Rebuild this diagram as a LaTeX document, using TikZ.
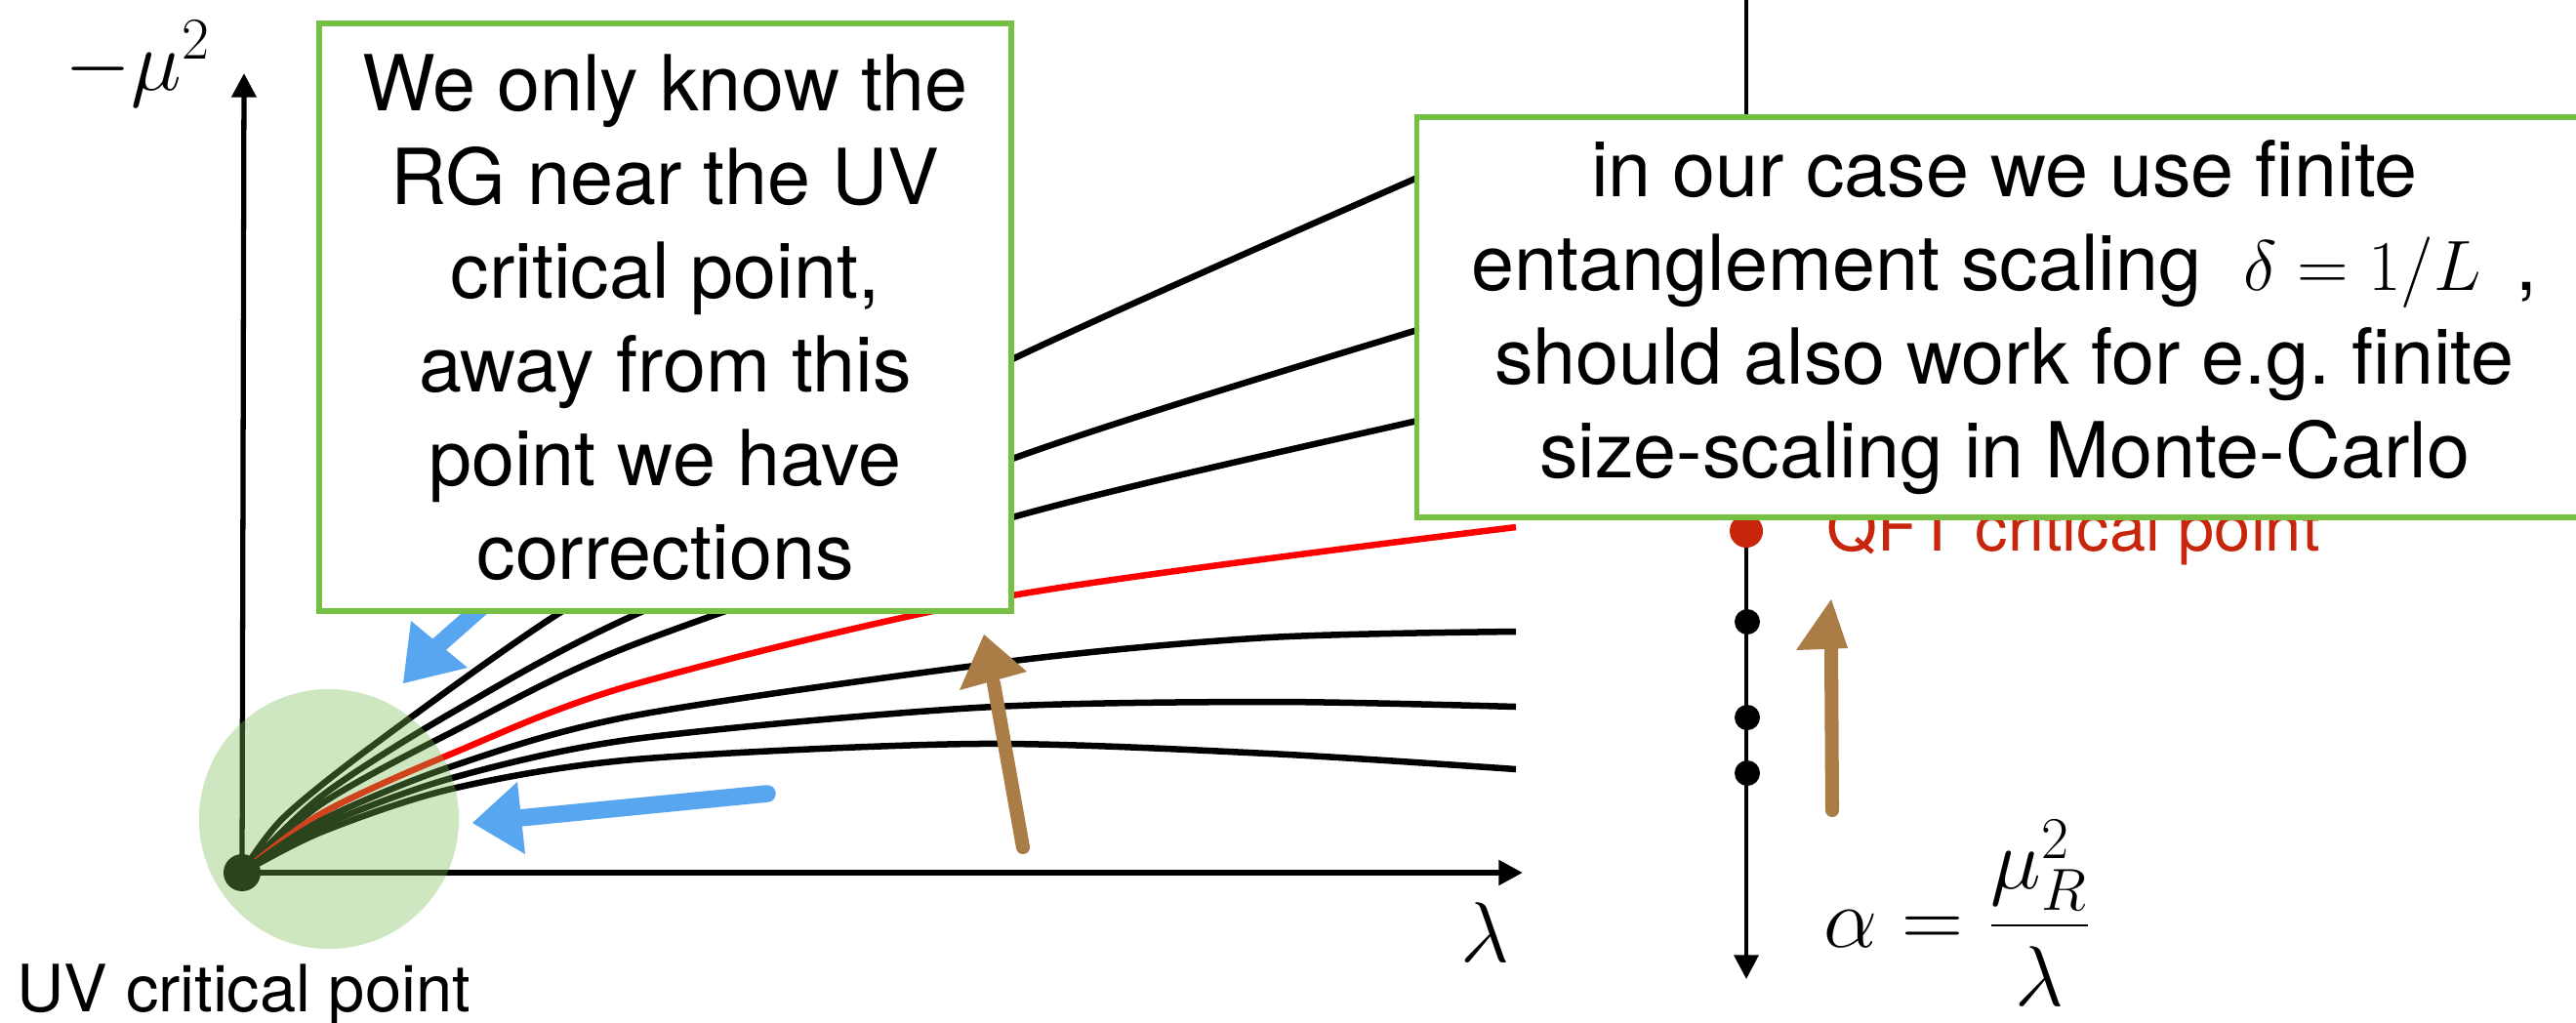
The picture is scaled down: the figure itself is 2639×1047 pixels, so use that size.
\documentclass[tikz,border=0pt]{standalone}
\usepackage{fontspec}
\setmainfont{TeX Gyre Heros}
\usetikzlibrary{arrows.meta}
\definecolor{boxgreen}{RGB}{118,192,67}
\definecolor{circgreen}{RGB}{122,191,83}
\definecolor{qftred}{RGB}{200,38,12}
\definecolor{flowblue}{RGB}{88,166,240}
\definecolor{flowbrown}{RGB}{170,124,70}
\definecolor{rgred}{RGB}{255,0,0}
\begin{document}
\begin{tikzpicture}[x=0.01cm,y=-0.01cm,
  axis/.style={line width=1.5pt, -{Triangle[length=7pt,width=7pt]}},
  flow/.style={line width=1.85pt},
  gbox/.style={draw=boxgreen, line width=1.6pt, fill=white, align=center, inner sep=0pt, font=\fontsize{22.5}{27.3}\selectfont},
  lbl/.style={inner sep=0pt, anchor=base west, font=\fontsize{19}{23}\selectfont},
  mlbl/.style={inner sep=0pt, anchor=base west},
  bluearrow/.style={draw=flowblue, line width=5pt, line cap=round},
  brownarrow/.style={draw=flowbrown, line width=4pt, line cap=round},
]
\clip (0,0) rectangle (2639,1047);
\fill[white] (0,0) rectangle (2639,1047);

% coordinates
\coordinate (O) at (248,894);
\coordinate (ytip) at (250,75);
\coordinate (xtip) at (1560,894);
\coordinate (rtop) at (1789,0);
\coordinate (rtip) at (1789,1003);

% flow lines
\draw[flow] plot[smooth] coordinates {(248,894) (290,838) (383,763) (573,628) (800,497) (1037,368) (1452,182) (1553,140)};
\draw[flow] plot[smooth] coordinates {(248,894) (330,815) (463,730) (650,630) (1037,470) (1452,338) (1553,310)};
\draw[flow] plot[smooth] coordinates {(248,894) (330,823) (463,750) (650,660) (1037,530) (1452,431) (1553,410)};
\draw[flow, rgred] plot[smooth] coordinates {(248,894) (330,833) (463,772) (650,701) (1037,610) (1553,540)};
\draw[flow] plot[smooth] coordinates {(248,894) (330,840) (463,785) (650,733) (1038,677) (1300,653) (1553,647)};
\draw[flow] plot[smooth] coordinates {(248,894) (330,846) (463,797) (650,757) (1000,725) (1300,719) (1553,724)};
\draw[flow] plot[smooth] coordinates {(248,894) (330,852) (463,808) (650,778) (1000,762) (1300,772) (1553,788)};

% axes
\draw[axis] (O) -- (ytip);
\draw[axis, line width=1.7pt] (O) -- (xtip);
\fill (O) circle[radius=0.19cm];

% green disc
\fill[circgreen, opacity=0.36] (337,839) circle[radius=1.33cm];

% axis labels
\node[mlbl, font=\fontsize{26}{31}\selectfont] (ylab) at (66,92) {$-\mu^2$};
\node[mlbl, font=\fontsize{24}{29}\selectfont] (xlab) at (1496,985) {$\lambda$};
\node[lbl] (uvlab) at (17,1036) {UV critical point};

% right line with points
\draw[axis, line width=1.3pt] (rtop) -- (rtip);
\node[lbl, text=qftred] (qftlab) at (1871,564) {QFT critical point};
\fill[qftred] (1789,544) circle[radius=0.17cm];
\fill (1790,637) circle[radius=0.13cm];
\fill (1790,735) circle[radius=0.13cm];
\fill (1790,792) circle[radius=0.13cm];
\node[mlbl, font=\fontsize{24.5}{30}\selectfont] (alab) at (1868,970) {$\displaystyle \alpha=\frac{\mu_R^2}{\lambda}$};

% blue arrows
\draw[bluearrow] (500,616) -- (448,662);
\fill[flowblue] (413,700) -- (421,636) -- (479,684) -- cycle;
\draw[bluearrow] (786,813) -- (532,838);
\fill[flowblue] (484,843) -- (530,801) -- (538,875) -- cycle;

% brown arrows
\draw[brownarrow] (1048,868) -- (1018,700);
\fill[flowbrown] (1008,650) -- (983,707) -- (1052,688) -- cycle;
\draw[brownarrow] (1877,830) -- (1876,664);
\fill[flowbrown] (1876,614) -- (1840,666) -- (1893,664) -- cycle;

% text boxes
\node[gbox, minimum width=7.09cm, minimum height=6.02cm] (lbox) at (681.5,325)
  {We only know the\\RG near the UV\\critical point,\\away from this\\point we have\\corrections};
\node[gbox, minimum width=12.03cm, minimum height=4.10cm] (rbox) at (2053.5,325)
  {in our case we use finite\\entanglement scaling\hspace{0.55em}$\delta=1/L$\hspace{0.45em},\\should also work for e.g.\ finite\\size-scaling in Monte-Carlo};
\end{tikzpicture}
\end{document}
